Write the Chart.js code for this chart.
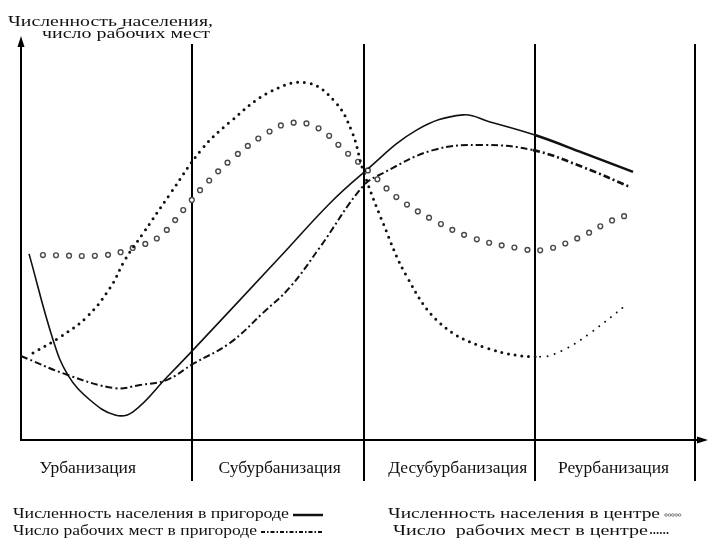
<!DOCTYPE html>
<html>
<head>
<meta charset="utf-8">
<script src="https://cdn.jsdelivr.net/npm/chart.js@4.4.1/dist/chart.umd.min.js"></script>
<style>
  html, body { margin: 0; padding: 0; background: #fff; }
</style>
</head>
<body>
<canvas id="urban-chart" width="708" height="541"></canvas>
<script>
// phases along the time axis (boundaries in axis units)
const phaseBounds = [10, 20, 30, 39.35];
const phaseNames = ['Урбанизация', 'Субурбанизация', 'Десубурбанизация', 'Реурбанизация'];
const phaseLabelX = [3.9, 15.1, 25.5, 34.6];

const axisTitle = ['Численность населения,', 'число рабочих мест'];

// population in suburbs (solid)
const suburbPopX = [0.47, 1.87, 2.74, 4.03, 5.49, 6.54, 8.53, 10.04, 15.12, 18.04, 19.97, 23.12, 25.81, 27.39, 30.01, 32.82, 35.74];
const suburbPopY = [47.0, 25.3, 16.4, 10.1, 6.3, 7.1, 15.9, 22.7, 46.2, 59.8, 67.4, 78.3, 82.1, 80.3, 77.0, 72.5, 67.7];

// jobs in suburbs (dash-dot)
const suburbJobsX = [0, 2.74, 5.49, 6.95, 8.53, 10.04, 12.2, 14.13, 15.71, 17.46, 19.97, 21.14, 24.06, 26.98, 29.9, 32.82, 35.56];
const suburbJobsY = [21.2, 16.4, 13.1, 13.9, 15.2, 19.2, 24.5, 32.1, 38.6, 48.7, 64.1, 67.4, 73.2, 74.5, 73.2, 68.9, 63.9];

// population in centre (circles)
const centerPopX = [1.28, 4.96, 6.66, 8.06, 9.58, 10.63, 12.32, 14.36, 15.82, 17.34, 19.04, 19.7, 20.8, 21.9, 24.06, 26.39, 28.96, 30.48, 32.53, 34.34, 35.39];
const centerPopY = [46.7, 46.7, 48.7, 51.3, 58.6, 63.9, 71.0, 77.5, 80.1, 78.8, 72.5, 70.2, 65.9, 61.4, 55.6, 51.0, 48.5, 48.0, 51.0, 55.1, 56.8];

// jobs in centre (dots)
const centerJobsX = [0.7, 2.28, 3.85, 5.2, 6.07, 7.07, 8.7, 10.57, 12.2, 14.54, 16.7, 18.34, 19.33, 19.97, 21.14, 22.54, 24.47, 27.21, 30.31, 31.65, 33.23, 35.39];
const centerJobsY = [22.0, 26.0, 31.1, 38.4, 45.5, 51.8, 62.1, 73.5, 80.3, 87.9, 90.2, 85.4, 77.8, 68.2, 54.8, 41.2, 29.5, 23.2, 21.0, 22.7, 27.0, 34.3];

const toPoints = (xs, ys) => xs.map((x, i) => ({ x: x, y: ys[i] }));
const lateSegment = ctx => ctx.p0.parsed.x >= 29.9;

// stretch text horizontally to a given width
function fitText(ctx, text, left, y, width, font) {
    ctx.save();
    ctx.font = font;
    ctx.textBaseline = 'middle';
    ctx.textAlign = 'left';
    const w = ctx.measureText(text).width;
    ctx.translate(left, y);
    ctx.scale(width / w, 1);
    ctx.fillText(text, 0, 0);
    ctx.restore();
}

const framePlugin = {
    id: 'frame',
    beforeDatasetsDraw(chart) {
        const ctx = chart.ctx;
        const xs = chart.scales.x, ys = chart.scales.y;
        const x0 = xs.getPixelForValue(0), yBase = ys.getPixelForValue(0), yTop = ys.getPixelForValue(100);
        ctx.save();
        ctx.strokeStyle = '#000';
        ctx.fillStyle = '#000';
        ctx.lineWidth = 2;
        // y axis + arrow
        ctx.beginPath();
        ctx.moveTo(x0, yBase + 1);
        ctx.lineTo(x0, yTop);
        ctx.stroke();
        ctx.beginPath();
        ctx.moveTo(x0, yTop - 8);
        ctx.lineTo(x0 - 3.5, yTop + 3);
        ctx.lineTo(x0 + 3.5, yTop + 3);
        ctx.closePath();
        ctx.fill();
        // x axis + arrow
        ctx.beginPath();
        ctx.moveTo(x0 - 1, yBase);
        ctx.lineTo(chart.width - 8, yBase);
        ctx.stroke();
        ctx.beginPath();
        ctx.moveTo(chart.width, yBase);
        ctx.lineTo(chart.width - 11, yBase - 3.5);
        ctx.lineTo(chart.width - 11, yBase + 3.5);
        ctx.closePath();
        ctx.fill();
        // phase dividers
        phaseBounds.forEach(b => {
            const px = Math.round(xs.getPixelForValue(b));
            ctx.beginPath();
            ctx.moveTo(px, yTop);
            ctx.lineTo(px, yBase + 41);
            ctx.stroke();
        });
        ctx.restore();
    },
    afterDraw(chart) {
        const ctx = chart.ctx;
        const xs = chart.scales.x;
        ctx.save();
        ctx.fillStyle = '#111';

        // axis title
        fitText(ctx, axisTitle[0], 8, 22, 205, '15px "Liberation Serif"');
        fitText(ctx, axisTitle[1], 42, 34, 168, '15px "Liberation Serif"');

        // phase names
        ctx.font = '17.5px "Liberation Serif"';
        ctx.textAlign = 'center';
        ctx.textBaseline = 'middle';
        phaseNames.forEach((name, i) => {
            ctx.fillText(name, xs.getPixelForValue(phaseLabelX[i]), 468);
        });

        // legend
        const ds = chart.data.datasets;
        const legendFont = '15.5px "Liberation Serif"';
        fitText(ctx, ds[0].label, 13, 514, 276, legendFont);
        fitText(ctx, ds[1].label, 13, 531, 244, legendFont);
        fitText(ctx, ds[2].label, 388, 514, 272, legendFont);
        fitText(ctx, ds[4].label, 393, 531, 255, legendFont);

        ctx.strokeStyle = '#111';
        ctx.lineWidth = 2.5;
        ctx.beginPath();
        ctx.moveTo(293, 515);
        ctx.lineTo(323, 515);
        ctx.stroke();

        ctx.lineWidth = 2;
        ctx.setLineDash([4, 2, 1.5, 2]);
        ctx.beginPath();
        ctx.moveTo(261, 532);
        ctx.lineTo(322, 532);
        ctx.stroke();
        ctx.setLineDash([]);

        ctx.strokeStyle = '#777';
        ctx.lineWidth = 0.9;
        for (let i = 0; i < 5; i++) {
            ctx.beginPath();
            ctx.arc(666 + i * 3.4, 515, 1.3, 0, Math.PI * 2);
            ctx.stroke();
        }
        ctx.fillStyle = '#111';
        for (let i = 0; i < 6; i++) {
            ctx.beginPath();
            ctx.arc(651 + i * 3.3, 533, 1, 0, Math.PI * 2);
            ctx.fill();
        }
        ctx.restore();
    }
};

const ctx = document.getElementById('urban-chart').getContext('2d');

new Chart(ctx, {
    type: 'line',
    data: {
        datasets: [{
            label: 'Численность населения в пригороде',
            data: toPoints(suburbPopX, suburbPopY),
            borderColor: '#111',
            borderWidth: 1.6,
            segment: {
                borderWidth: c => lateSegment(c) ? 2.6 : 1.6
            },
            order: 2
        }, {
            label: 'Число рабочих мест в пригороде',
            data: toPoints(suburbJobsX, suburbJobsY),
            borderColor: '#111',
            borderWidth: 2,
            borderDash: [7, 3, 2, 3],
            segment: {
                borderWidth: c => lateSegment(c) ? 2.6 : 2
            },
            order: 3
        }, {
            label: 'Численность населения в центре',
            data: toPoints(centerPopX, centerPopY),
            borderColor: '#4a4a4a',
            borderWidth: 6.2,
            borderDash: [0, 13],
            borderCapStyle: 'round',
            order: 4
        }, {
            label: 'centre-inner',
            data: toPoints(centerPopX, centerPopY),
            borderColor: '#fff',
            borderWidth: 3.4,
            borderDash: [0, 13],
            borderCapStyle: 'round',
            order: 1
        }, {
            label: 'Число  рабочих мест в центре',
            data: toPoints(centerJobsX, centerJobsY),
            borderColor: '#111',
            borderWidth: 3,
            borderDash: [0, 6.8],
            borderCapStyle: 'round',
            segment: {
                borderWidth: c => lateSegment(c) ? 2 : 3,
                borderDash: c => lateSegment(c) ? [0, 7.5] : [0, 6.8]
            },
            order: 0
        }]
    },
    options: {
        responsive: false,
        animation: false,
        layout: { padding: { left: 21, right: 2, top: 44, bottom: 101 } },
        elements: {
            point: { radius: 0 },
            line: { tension: 0.4 }
        },
        scales: {
            x: { type: 'linear', min: 0, max: 40, display: false },
            y: { min: 0, max: 100, display: false }
        },
        plugins: {
            legend: { display: false },
            tooltip: { enabled: false }
        }
    },
    plugins: [framePlugin]
});
</script>
</body>
</html>
